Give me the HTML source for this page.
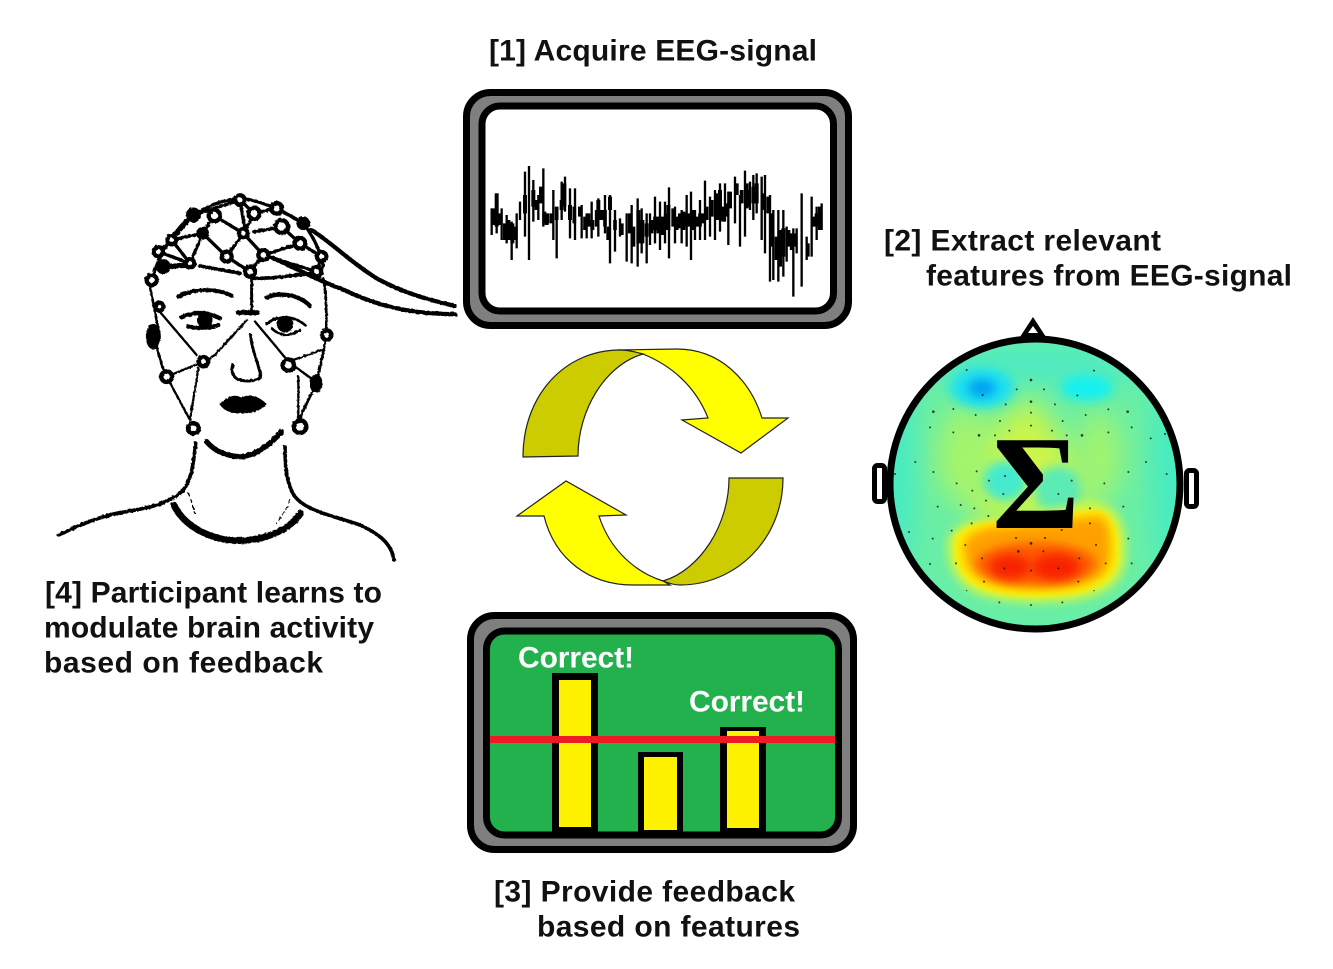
<!DOCTYPE html>
<html><head><meta charset="utf-8"><style>
html,body{margin:0;padding:0;background:#fff;width:1333px;height:969px;overflow:hidden}
svg{display:block}
.l{font:bold 30px "Liberation Sans",sans-serif;fill:#111}
.c{font:bold 30px "Liberation Sans",sans-serif;fill:#fff}
</style></head><body>
<svg width="1333" height="969" viewBox="0 0 1333 969" xmlns="http://www.w3.org/2000/svg">
<defs>
<filter id="b3" x="-50%" y="-50%" width="200%" height="200%"><feGaussianBlur stdDeviation="3"/></filter>
<filter id="b5" x="-50%" y="-50%" width="200%" height="200%"><feGaussianBlur stdDeviation="5"/></filter>
<filter id="b8" x="-50%" y="-50%" width="200%" height="200%"><feGaussianBlur stdDeviation="8"/></filter>
<filter id="b14" x="-50%" y="-50%" width="200%" height="200%"><feGaussianBlur stdDeviation="14"/></filter>
<filter id="rough" x="-5%" y="-5%" width="110%" height="110%"><feTurbulence type="fractalNoise" baseFrequency="0.12" numOctaves="2" seed="4"/><feDisplacementMap in="SourceGraphic" scale="7"/></filter>
<clipPath id="sc"><circle cx="1035" cy="484" r="143"/></clipPath>
</defs>

<!-- labels -->
<text class="l" x="489" y="60.500" textLength="328">[1] Acquire EEG-signal</text>
<text class="l" x="884" y="250.500" textLength="277">[2] Extract relevant</text>
<text class="l" x="926" y="285.500" textLength="366">features from EEG-signal</text>
<text class="l" x="494" y="901.500" textLength="301">[3] Provide feedback</text>
<text class="l" x="537" y="936.500" textLength="263">based on features</text>
<text class="l" x="45" y="602.500" textLength="337">[4] Participant learns to</text>
<text class="l" x="44" y="637.500" textLength="330">modulate brain activity</text>
<text class="l" x="44" y="672.500" textLength="279">based on feedback</text>

<!-- top panel -->
<rect x="466.500" y="92.500" width="382" height="233" rx="24" fill="#7f7f7f" stroke="#000" stroke-width="7"/>
<rect x="482" y="106" width="351.500" height="205" rx="18" fill="#fff" stroke="#000" stroke-width="7"/>
<g transform="translate(455 80) scale(.33333)" stroke="#000" fill="none">
<path stroke-width="7" d="M110 385V465M125 340V460M140 385V480M155 405V490M170 425V540M185 400V505M195 365V420M210 275V470M222 258V540M235 300V425M250 345V420M265 265V440M280 400V430M295 330V480M305 390V535M320 305V420M330 290V395M345 325V475M360 325V480M380 375V475M395 400V475M410 365V475M430 355V470M450 345V460M465 345V550M480 390V515M495 415V470M515 400V545M530 375V550M548 355V560M560 385V520M575 400V550M585 400V495M600 350V490M615 365V510M630 365V490M642 322V535M660 380V490M680 390V490M695 345V500M708 335V540M720 390V480M735 360V480M750 302V480M765 350V470M780 330V480M795 310V455M810 310V425M820 335V495M840 290V430M855 345V500M870 272V470M885 305V390M895 285V420M905 280V400M920 290V480M930 285V520M945 345V605M955 390V600M970 390V605M985 390V590M995 440V545M1015 445V650M1025 445V520M1040 340V620M1055 470V540M1070 350V530M1085 380V480M1100 370V450"/>
<path stroke-width="12" d="M115 385V435M125 340V440M135 400V435M150 430V480M160 420V480M172 430V490M182 440V480M210 345V400M235 330V380M245 360V390M258 320V370M268 395V430M275 400V435M320 360V390M328 310V380M345 375V420M375 380V410M400 400V440M412 420V450M430 360V420M440 390V420M460 440V480M465 350V390M500 430V465M525 400V460M535 440V500M550 390V490M562 420V490M575 430V470M610 410V460M622 410V465M640 375V450M655 385V440M675 400V445M685 395V450M715 390V450M745 400V430M770 360V410M785 340V420M795 330V420M805 380V425M825 335V385M845 310V345M875 310V385M882 330V380M905 310V370M940 350V400M965 470V540M975 450V560M985 445V530M1000 450V500M1020 460V500M1058 490V530M1085 400V440M1095 380V450"/>
<path stroke-width="11" d="M290 400V430M305 380V420M358 380V430M390 410V450M425 390V440M450 390V440M480 420V450M590 420V460M600 410V450M632 400V450M665 410V450M695 400V440M705 400V440M725 410V440M735 400V440M755 380V420M815 370V410M860 330V370M895 320V370M925 340V390M950 400V500M1010 460V510M1075 410V440"/>
</g>

<!-- bottom panel -->
<rect x="470.500" y="615.500" width="383" height="234" rx="24" fill="#7f7f7f" stroke="#000" stroke-width="7"/>
<rect x="486.500" y="631" width="352" height="204" rx="18" fill="#22b14c" stroke="#000" stroke-width="7"/>
<rect x="552" y="673" width="46" height="160" fill="#000"/><rect x="559" y="680" width="32" height="147" fill="#fff200"/>
<rect x="638" y="752" width="45" height="81" fill="#000"/><rect x="644" y="757" width="33" height="73" fill="#fff200"/>
<rect x="720" y="727" width="46" height="106" fill="#000"/><rect x="727" y="731" width="32" height="97" fill="#fff200"/>
<rect x="490" y="736" width="345" height="7" fill="#ed1c24"/>
<text class="c" x="518" y="667.500" textLength="116">Correct!</text>
<text class="c" x="689" y="711.500" textLength="116">Correct!</text>

<!-- cycle arrows -->
<g stroke="#222" stroke-width="1.200" stroke-linejoin="miter">
<path fill="#ffff00" d="M617 350L677 349C720 349 750 380 762 418L788 418L741 453L682 420L708 418C695 385 670 365 643 354Z"/>
<path fill="#cccc00" d="M523 457C523 395 565 350 620 350C628 350 636 352 643 354C605 365 578 410 578 456Z"/>
<path fill="#ffff00" d="M517 516L566 481L626 515L599 516C610 550 635 572 663 581L670 585L633 585C590 585 555 560 544 516Z"/>
<path fill="#cccc00" d="M729 478L783 478C783 540 735 585 680 585C674 585 668 583 663 581C700 570 729 525 729 478Z"/>
</g>

<!-- scalp map -->
<path d="M1018 340L1033 317L1048 340Z" fill="#000"/>
<path d="M1028 333L1033 326L1038 333Z" fill="#fff"/>
<rect x="874.500" y="465.500" width="10" height="36" rx="3" fill="#fff" stroke="#000" stroke-width="5"/>
<rect x="1186.500" y="470.500" width="10" height="36" rx="3" fill="#fff" stroke="#000" stroke-width="5"/>
<circle cx="1035" cy="484" r="145" fill="#68eea6"/>
<g clip-path="url(#sc)">
<rect x="885" y="335" width="300" height="300" fill="#68eea6"/>
<ellipse cx="896" cy="470" rx="16" ry="110" fill="#40eac8" filter="url(#b14)"/>
<ellipse cx="1172" cy="470" rx="16" ry="110" fill="#40eac8" filter="url(#b14)"/>
<ellipse cx="1035" cy="365" rx="125" ry="20" fill="#50eac2" filter="url(#b14)"/>
<path d="M1032 395L1085 470L1095 520L975 520L965 450Z" fill="#ccf548" filter="url(#b14)"/>
<ellipse cx="965" cy="455" rx="28" ry="50" fill="#a4f46c" filter="url(#b14)"/>
<ellipse cx="1100" cy="455" rx="22" ry="45" fill="#a4f46c" filter="url(#b14)"/>
<ellipse cx="982" cy="388" rx="32" ry="20" fill="#1ce0f0" filter="url(#b5)"/>
<ellipse cx="982" cy="388" rx="14" ry="9" fill="#00a0f2" filter="url(#b5)"/>
<ellipse cx="1087" cy="388" rx="26" ry="13" fill="#14f0f0" filter="url(#b5)"/>
<ellipse cx="1005" cy="481" rx="22" ry="20" fill="#44eace" filter="url(#b5)"/>
<ellipse cx="1058" cy="490" rx="24" ry="24" fill="#5ceab6" filter="url(#b5)"/>
<path d="M948 545C948 525 975 518 1000 520L1090 503C1118 503 1128 525 1125 560C1122 592 1090 602 1040 602C985 602 948 592 948 545Z" fill="#d8f63c" filter="url(#b5)"/>
<path d="M955 545C955 528 980 521 1005 521L1092 510C1112 510 1120 530 1118 558C1115 585 1085 596 1040 596C990 596 955 588 955 545Z" fill="#ffee00" filter="url(#b3)"/>
<path d="M964 548C964 532 988 526 1010 526L1097 516C1108 516 1112 532 1110 558C1108 580 1082 588 1040 588C995 588 964 582 964 548Z" fill="#ffa000" filter="url(#b5)"/>
<ellipse cx="1036" cy="564" rx="60" ry="21" fill="#ff5a00" filter="url(#b5)"/>
<ellipse cx="1010" cy="567" rx="20" ry="12" fill="#f82000" filter="url(#b5)"/>
<ellipse cx="1056" cy="567" rx="24" ry="13" fill="#f82000" filter="url(#b5)"/>
<g transform="translate(860 310) scale(.33333)" fill="#111" fill-opacity=".8">
<circle cx="320" cy="180" r="3"/><circle cx="702" cy="182" r="3"/><circle cx="513" cy="210" r="4"/><circle cx="470" cy="238" r="3"/><circle cx="552" cy="238" r="3"/><circle cx="368" cy="255" r="3"/><circle cx="652" cy="256" r="3"/><circle cx="513" cy="275" r="4"/><circle cx="437" cy="283" r="3"/><circle cx="585" cy="283" r="3"/><circle cx="220" cy="305" r="4"/><circle cx="280" cy="297" r="3"/><circle cx="347" cy="315" r="3"/><circle cx="513" cy="308" r="3"/><circle cx="677" cy="315" r="3"/><circle cx="745" cy="298" r="3"/><circle cx="803" cy="305" r="4"/><circle cx="420" cy="333" r="3"/><circle cx="608" cy="333" r="3"/><circle cx="513" cy="347" r="3"/><circle cx="210" cy="352" r="3"/><circle cx="280" cy="367" r="3"/><circle cx="357" cy="376" r="4"/><circle cx="405" cy="376" r="3"/><circle cx="448" cy="362" r="3"/><circle cx="576" cy="362" r="3"/><circle cx="620" cy="376" r="3"/><circle cx="666" cy="376" r="4"/><circle cx="745" cy="367" r="3"/><circle cx="815" cy="352" r="3"/><circle cx="872" cy="385" r="3"/><circle cx="915" cy="372" r="3"/><circle cx="166" cy="456" r="3"/><circle cx="220" cy="486" r="3"/><circle cx="105" cy="492" r="3"/><circle cx="290" cy="520" r="3"/><circle cx="350" cy="484" r="3"/><circle cx="387" cy="512" r="3"/><circle cx="435" cy="498" r="3"/><circle cx="430" cy="552" r="3"/><circle cx="337" cy="542" r="3"/><circle cx="595" cy="552" r="3"/><circle cx="635" cy="512" r="3"/><circle cx="733" cy="520" r="3"/><circle cx="805" cy="486" r="3"/><circle cx="858" cy="456" r="3"/><circle cx="920" cy="492" r="3"/><circle cx="233" cy="590" r="3"/><circle cx="302" cy="585" r="3"/><circle cx="343" cy="595" r="3"/><circle cx="378" cy="572" r="3"/><circle cx="385" cy="618" r="3"/><circle cx="690" cy="595" r="3"/><circle cx="790" cy="590" r="3"/><circle cx="147" cy="666" r="3"/><circle cx="218" cy="686" r="3"/><circle cx="275" cy="662" r="3"/><circle cx="335" cy="640" r="3"/><circle cx="316" cy="705" r="3"/><circle cx="468" cy="684" r="3"/><circle cx="513" cy="700" r="4"/><circle cx="555" cy="684" r="3"/><circle cx="605" cy="660" r="3"/><circle cx="690" cy="640" r="3"/><circle cx="708" cy="705" r="3"/><circle cx="805" cy="686" r="3"/><circle cx="366" cy="745" r="3"/><circle cx="288" cy="760" r="3"/><circle cx="210" cy="762" r="3"/><circle cx="475" cy="724" r="4"/><circle cx="550" cy="724" r="3"/><circle cx="433" cy="775" r="3"/><circle cx="513" cy="782" r="3"/><circle cx="595" cy="775" r="3"/><circle cx="658" cy="745" r="3"/><circle cx="737" cy="760" r="3"/><circle cx="815" cy="760" r="3"/><circle cx="372" cy="815" r="3"/><circle cx="655" cy="815" r="3"/><circle cx="320" cy="842" r="2"/><circle cx="702" cy="842" r="2"/><circle cx="418" cy="877" r="3"/><circle cx="513" cy="885" r="3"/><circle cx="607" cy="877" r="3"/>
</g>
</g>
<circle cx="1035" cy="484" r="145" fill="none" stroke="#000" stroke-width="7"/>
<text x="1036" y="528" text-anchor="middle" font-family="'Liberation Serif',serif" font-weight="bold" font-size="134" fill="#000">Σ</text>

<!-- person -->
<g transform="translate(50 180) scale(.33333)" fill="none" stroke="#000" stroke-linecap="round" stroke-linejoin="round" filter="url(#rough)">
<!-- shoulders -->
<path stroke-width="11" d="M25 1065C70 1045 130 1015 200 1000C290 985 350 975 395 935C425 905 430 850 437 790"/>
<path stroke-width="11" d="M705 800C705 860 710 915 735 950C770 995 860 1010 930 1035C985 1060 1025 1090 1032 1140"/>
<path stroke-width="20" d="M372 975C395 1025 450 1065 530 1080C620 1090 710 1060 752 1000"/>
<path stroke-width="16" d="M470 785C495 815 535 830 575 830C620 825 665 790 695 755"/>
<path stroke-width="4" d="M415 940C425 960 430 985 435 1000M720 960C710 990 695 1005 680 1030" stroke-dasharray="10 10"/>
<!-- cables -->
<path stroke-width="13" d="M785 150C860 200 900 245 980 295C1060 340 1140 360 1215 378"/>
<path stroke-width="13" d="M670 235C740 265 800 300 870 325C960 365 1040 400 1215 403"/>
<!-- band and wires -->
<path stroke-width="11" d="M340 270C370 258 400 255 425 258M450 258L570 280M610 295C680 295 740 285 800 278"/>
<path stroke-width="9" d="M605 290V390"/>
<path stroke-width="7" d="M325 390L440 525M590 420L495 525L460 545L350 590L420 720M445 565L420 720"/>
<path stroke-width="7" d="M615 425L670 490L715 545L815 510M715 545L790 600M745 590V720"/>
<path stroke-width="8" d="M300 320C310 370 320 420 325 450M820 295C830 350 830 420 828 470C820 520 810 560 800 610C780 650 760 690 745 725" stroke-dasharray="14 4"/>
<path stroke-width="8" d="M320 500C330 540 340 570 350 590"/>
<!-- cap -->
<path stroke-width="10" d="M305 300C320 250 345 190 400 130C450 85 510 60 570 55C620 60 680 80 760 130C790 170 810 210 820 260" stroke-dasharray="18 4"/>
<path stroke-width="10" d="M420 250L458 160L493 107M458 160L530 230L580 160L493 107M580 160L640 225L600 275M530 230L600 275M640 225L750 190L695 140M640 225L800 275M420 250L365 180L458 160M365 180L430 105M325 215L420 250M340 260L420 250M325 215L365 180M430 105L570 60L612 100L680 85L760 130M612 155C650 150 670 145 695 140M570 60L585 150M750 190L815 230L800 275M580 160L612 100"/>
<g stroke-width="13" fill="#fff">
<circle cx="493" cy="107" r="17"/><circle cx="612" cy="100" r="17"/><circle cx="680" cy="85" r="16"/><circle cx="570" cy="60" r="14"/><circle cx="695" cy="140" r="19"/><circle cx="750" cy="190" r="16"/><circle cx="815" cy="230" r="14"/><circle cx="800" cy="275" r="14"/><circle cx="640" cy="225" r="15"/><circle cx="600" cy="275" r="15"/><circle cx="530" cy="230" r="15"/><circle cx="580" cy="160" r="13"/><circle cx="420" cy="250" r="13"/><circle cx="365" cy="180" r="13"/><circle cx="325" cy="215" r="14"/><circle cx="305" cy="300" r="15"/><circle cx="328" cy="380" r="12"/><circle cx="350" cy="590" r="16"/><circle cx="460" cy="545" r="14"/><circle cx="715" cy="555" r="17"/><circle cx="830" cy="465" r="14"/><circle cx="430" cy="745" r="16"/><circle cx="750" cy="740" r="19"/>
</g>
<g fill="#000" stroke-width="5">
<circle cx="430" cy="105" r="20"/><circle cx="458" cy="160" r="17"/><circle cx="340" cy="260" r="20"/><circle cx="760" cy="130" r="18"/><ellipse cx="310" cy="470" rx="20" ry="36"/><ellipse cx="798" cy="610" rx="17" ry="25"/>
</g>
<!-- face -->
<path stroke-width="12" d="M385 350C420 330 490 320 545 347"/>
<path stroke-width="13" d="M650 352C690 335 750 345 780 378"/>
<path stroke-width="13" d="M395 412C430 395 470 395 510 415M415 440C440 445 480 445 505 435"/>
<path stroke-width="8" d="M650 432C680 405 730 405 765 435M665 445C690 470 720 470 750 450"/>
<circle cx="465" cy="420" r="24" fill="#000" stroke="none"/>
<circle cx="705" cy="432" r="25" fill="#000" stroke="none"/>
<path stroke-width="15" d="M565 398H622"/>
<path stroke-width="9" d="M602 465C605 510 625 550 632 585C632 605 590 605 570 600C550 595 542 575 548 555"/>
<path fill="#000" stroke-width="3" d="M510 672C530 655 550 640 575 655C600 640 625 650 648 672C630 695 600 700 575 698C550 700 525 695 510 672Z"/>
</g>
</svg>
</body></html>
